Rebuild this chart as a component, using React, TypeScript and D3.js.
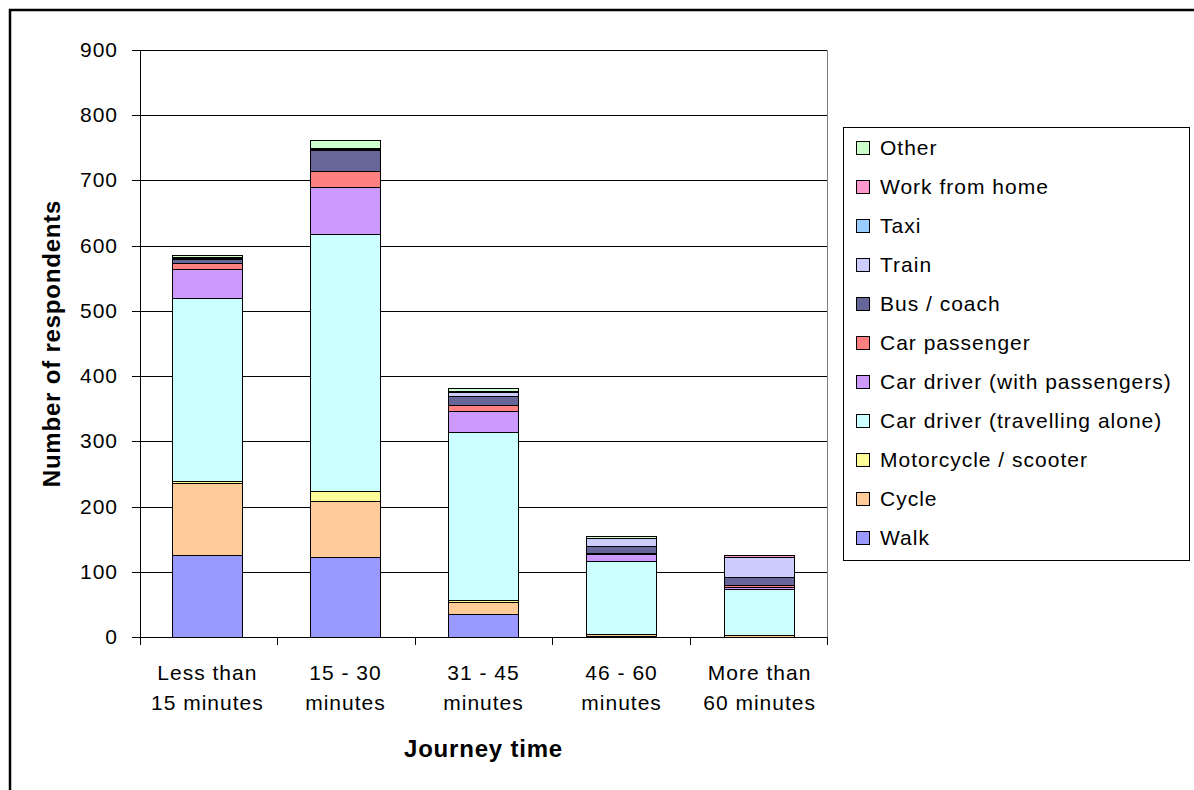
import React from "react";
import * as d3 from "d3";

// Journey time bands (two-line labels)
const categories = ["Less than 15 minutes", "15 - 30 minutes", "31 - 45 minutes", "46 - 60 minutes", "More than 60 minutes"];
const categoryLines = [
  ["Less than", "15 minutes"],
  ["15 - 30", "minutes"],
  ["31 - 45", "minutes"],
  ["46 - 60", "minutes"],
  ["More than", "60 minutes"],
];

// Respondents per travel mode, one value per journey time band
const walk = [125, 122, 35, 2, 0];
const cycle = [111, 87, 18, 3, 3];
const motorcycle = [3, 15, 3, 0, 0];
const carAlone = [280, 394, 258, 111, 71];
const carWithPassengers = [45, 72, 32, 12, 3];
const carPassenger = [9, 24, 9, 1, 3];
const busCoach = [6, 33, 15, 11, 12];
const train = [2, 2, 5, 12, 30];
const taxi = [1, 0, 0, 0, 0];
const workFromHome = [1, 1, 2, 0, 3];
const other = [3, 12, 5, 3, 0];

const yTicks = [0, 100, 200, 300, 400, 500, 600, 700, 800, 900];

const series = [
  { key: "Walk", values: walk, color: "#9999FF" },
  { key: "Cycle", values: cycle, color: "#FFCC99" },
  { key: "Motorcycle / scooter", values: motorcycle, color: "#FFFF99" },
  { key: "Car driver (travelling alone)", values: carAlone, color: "#CCFFFF" },
  { key: "Car driver (with passengers)", values: carWithPassengers, color: "#CC99FF" },
  { key: "Car passenger", values: carPassenger, color: "#FF8080" },
  { key: "Bus / coach", values: busCoach, color: "#666699" },
  { key: "Train", values: train, color: "#CCCCFF" },
  { key: "Taxi", values: taxi, color: "#99CCFF" },
  { key: "Work from home", values: workFromHome, color: "#FF99CC" },
  { key: "Other", values: other, color: "#CCFFCC" },
];

const FONT = "'Liberation Sans', Arial, sans-serif";

export default function App() {
  const left = 140, right = 827, top = 50, bottom = 637;

  const rows = categories.map((c, i) => {
    const r: Record<string, any> = { category: c };
    series.forEach((s) => (r[s.key] = s.values[i]));
    return r;
  });
  const stacked = d3.stack<any>().keys(series.map((s) => s.key))(rows);

  const x = d3.scaleBand<string>().domain(categories).range([left, right]).paddingInner(0.49).paddingOuter(0.233);
  const y = d3.scaleLinear().domain([0, 900]).range([bottom, top]);
  const step = (right - left) / categories.length;

  const legendX = 843, legendY = 127, legendW = 346, legendH = 433;
  const legendItems = [...series].reverse();

  return (
    <svg width={1194} height={790} style={{ position: "absolute", left: 0, top: 0, background: "#fff" }} fontFamily={FONT}>
      {/* chart frame */}
      <rect x={10} y={10} width={1300} height={900} fill="#fff" stroke="#000" strokeWidth={2.5} />

      {/* gridlines */}
      {yTicks.map((t) => (
        <line key={t} x1={left} x2={right} y1={Math.round(y(t)) + 0.5} y2={Math.round(y(t)) + 0.5} stroke="#000" strokeWidth={1} />
      ))}
      {/* plot area right edge */}
      <line x1={right + 0.5} x2={right + 0.5} y1={top} y2={bottom} stroke="#808080" strokeWidth={1} />

      {/* stacked bars */}
      {stacked.map((layer, si) =>
        layer.map((d, ci) => {
          const v = d[1] - d[0];
          if (v <= 0) return null;
          const y0 = y(d[0]);
          const y1 = y(d[1]);
          return (
            <rect
              key={`${si}-${ci}`}
              x={Math.round(x(categories[ci])!) + 0.5}
              y={Math.round(y1) + 0.5}
              width={Math.round(x.bandwidth())}
              height={Math.max(Math.round(y0) - Math.round(y1), 1)}
              fill={series[si].color}
              stroke="#000"
              strokeWidth={1}
            />
          );
        })
      )}

      {/* y axis */}
      <line x1={left + 0.5} x2={left + 0.5} y1={top} y2={bottom + 0.5} stroke="#000" />
      {yTicks.map((t) => (
        <g key={t}>
          <line x1={left - 8} x2={left} y1={Math.round(y(t)) + 0.5} y2={Math.round(y(t)) + 0.5} stroke="#000" />
          <text x={118} y={y(t) + 7} textAnchor="end" fontSize={21} letterSpacing={1}>
            {t}
          </text>
        </g>
      ))}

      {/* x axis */}
      <line x1={left} x2={right + 1} y1={bottom + 0.5} y2={bottom + 0.5} stroke="#000" />
      {d3.range(categories.length + 1).map((i) => {
        const tx = Math.round(left + i * step) + 0.5;
        return <line key={i} x1={tx} x2={tx} y1={bottom} y2={bottom + 8} stroke="#000" />;
      })}
      {categories.map((c, i) => {
        const cx = x(c)! + x.bandwidth() / 2;
        return (
          <text key={c} textAnchor="middle" fontSize={21} letterSpacing={1}>
            <tspan x={cx} y={680}>{categoryLines[i][0]}</tspan>
            <tspan x={cx} y={710}>{categoryLines[i][1]}</tspan>
          </text>
        );
      })}

      {/* axis titles */}
      <text x={(left + right) / 2} y={757} textAnchor="middle" fontSize={24} fontWeight="bold" letterSpacing={0.8}>
        Journey time
      </text>
      <text transform={`translate(60, ${(top + bottom) / 2}) rotate(-90)`} textAnchor="middle" fontSize={24} fontWeight="bold" letterSpacing={0.8}>
        Number of respondents
      </text>

      {/* legend */}
      <rect x={legendX + 0.5} y={legendY + 0.5} width={legendW} height={legendH} fill="#fff" stroke="#000" strokeWidth={1} />
      {legendItems.map((s, i) => {
        const cy = 148 + i * 39;
        return (
          <g key={s.key}>
            <rect x={856.5} y={cy - 6.5} width={13} height={13} fill={s.color} stroke="#000" strokeWidth={1} />
            <text x={880} y={cy + 7} fontSize={21} letterSpacing={1}>
              {s.key}
            </text>
          </g>
        );
      })}
    </svg>
  );
}
